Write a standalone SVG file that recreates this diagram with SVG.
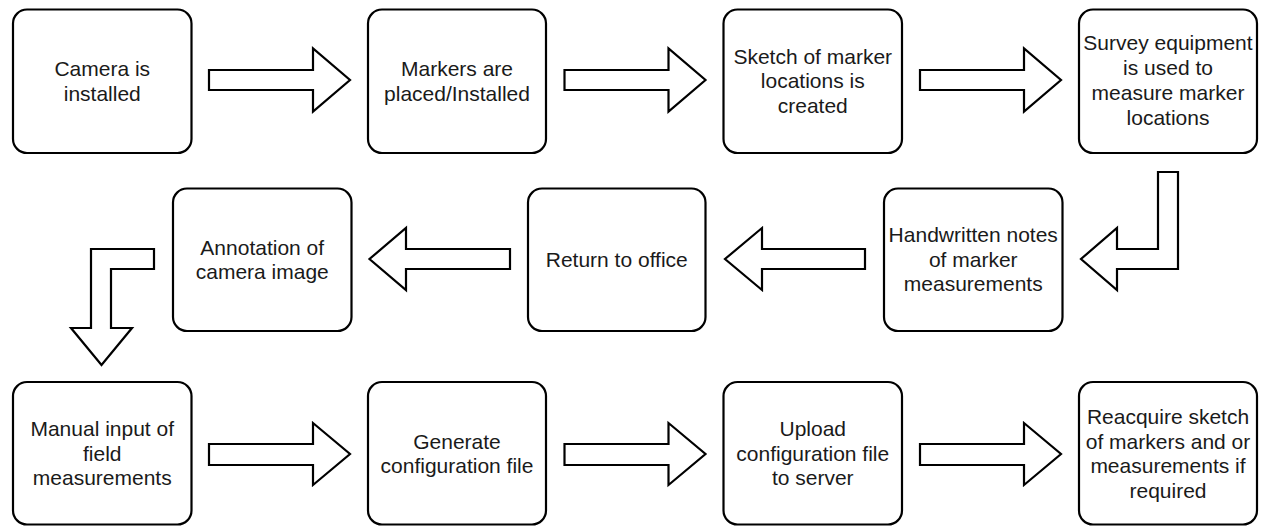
<svg xmlns="http://www.w3.org/2000/svg" width="1265" height="526" viewBox="0 0 1265 526">
<style>
.box{fill:#fff;stroke:#000;stroke-width:2.2}
.arr{fill:#fff;stroke:#000;stroke-width:2.2;stroke-linejoin:miter}
text{font-family:"Liberation Sans",Arial,Helvetica,sans-serif;font-size:21px;fill:#1a1a1a;text-anchor:middle}
</style>
<rect width="1265" height="526" fill="#fff"/>
<g id="connectors">
<path class="arr" d="M209,70 L313,70 L313,48.5 L350,80 L313,111.5 L313,90 L209,90 Z"/>
<path class="arr" d="M564.5,70 L668.5,70 L668.5,48.5 L705.5,80 L668.5,111.5 L668.5,90 L564.5,90 Z"/>
<path class="arr" d="M920,70 L1024,70 L1024,48.5 L1061,80 L1024,111.5 L1024,90 L920,90 Z"/>
<path class="arr" d="M1158,172 L1178,172 L1178,269 L1117,269 L1117,290 L1081,259 L1117,228 L1117,249 L1158,249 Z"/>
<path class="arr" d="M865,249 L762,249 L762,228 L725,259 L762,290 L762,269 L865,269 Z"/>
<path class="arr" d="M510,249 L406,249 L406,228 L369.5,259 L406,290 L406,269 L510,269 Z"/>
<path class="arr" d="M154,249 L154,269 L111,269 L111,328 L132,328 L101.5,365 L71,328 L91,328 L91,249 Z"/>
<path class="arr" d="M209,444 L313,444 L313,423 L350,454 L313,485 L313,465 L209,465 Z"/>
<path class="arr" d="M564.5,444 L668.5,444 L668.5,423 L705.5,454 L668.5,485 L668.5,465 L564.5,465 Z"/>
<path class="arr" d="M920,444 L1024,444 L1024,423 L1061,454 L1024,485 L1024,465 L920,465 Z"/>
</g>
<g id="n1"><rect class="box" x="13" y="9.5" width="178.5" height="143.5" rx="14"/><text x="102.25"><tspan y="76">Camera is</tspan><tspan x="102.25" y="100.5">installed</tspan></text></g>
<g id="n2"><rect class="box" x="368" y="9.5" width="178" height="143.5" rx="14"/><text x="457"><tspan y="76">Markers are</tspan><tspan x="457" y="100.5">placed/Installed</tspan></text></g>
<g id="n3"><rect class="box" x="723.5" y="9.5" width="178.5" height="143.5" rx="14"/><text x="812.75"><tspan y="63.5">Sketch of marker</tspan><tspan x="812.75" y="88">locations is</tspan><tspan x="812.75" y="112.5">created</tspan></text></g>
<g id="n4"><rect class="box" x="1079" y="9.5" width="178" height="143.5" rx="14"/><text x="1168"><tspan y="50">Survey equipment</tspan><tspan x="1168" y="75">is used to</tspan><tspan x="1168" y="100">measure marker</tspan><tspan x="1168" y="125">locations</tspan></text></g>
<g id="n5"><rect class="box" x="884" y="188.5" width="178.5" height="142.5" rx="14"/><text x="973.25"><tspan y="242">Handwritten notes</tspan><tspan x="973.25" y="266.5">of marker</tspan><tspan x="973.25" y="291">measurements</tspan></text></g>
<g id="n6"><rect class="box" x="528" y="188.5" width="177.5" height="142.5" rx="14"/><text x="616.75" y="266.5">Return to office</text></g>
<g id="n7"><rect class="box" x="173" y="188.5" width="178.5" height="142.5" rx="14"/><text x="262.25"><tspan y="254.5">Annotation of</tspan><tspan x="262.25" y="279">camera image</tspan></text></g>
<g id="n8"><rect class="box" x="13" y="382" width="178.5" height="142.5" rx="14"/><text x="102.25"><tspan y="436">Manual input of</tspan><tspan x="102.25" y="460.5">field</tspan><tspan x="102.25" y="485">measurements</tspan></text></g>
<g id="n9"><rect class="box" x="368" y="382" width="178" height="142.5" rx="14"/><text x="457"><tspan y="448.5">Generate</tspan><tspan x="457" y="473">configuration file</tspan></text></g>
<g id="n10"><rect class="box" x="723.5" y="382" width="178.5" height="142.5" rx="14"/><text x="812.75"><tspan y="436">Upload</tspan><tspan x="812.75" y="460.5">configuration file</tspan><tspan x="812.75" y="485">to server</tspan></text></g>
<g id="n11"><rect class="box" x="1079" y="382" width="178" height="142.5" rx="14"/><text x="1168"><tspan y="424">Reacquire sketch</tspan><tspan x="1168" y="448.5">of markers and or</tspan><tspan x="1168" y="473">measurements if</tspan><tspan x="1168" y="497.5">required</tspan></text></g>
</svg>
